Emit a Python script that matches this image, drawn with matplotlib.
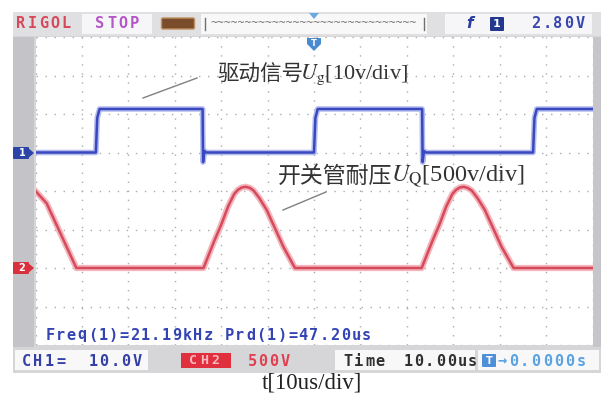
import matplotlib.pyplot as plt
from matplotlib.patches import Rectangle, FancyBboxPatch, Polygon

plt.rcParams['mathtext.fontset'] = 'stix'

# time axis in us (10 us/div, 12 div on screen)
t_ug = [0, 13.0, 13.3, 13.8, 36.0, 36.1, 36.4, 36.8, 60.0, 60.3, 60.8,
        83.3, 83.4, 83.7, 84.1, 107.2, 107.5, 108.0, 120]
ug = [0, 0, 9.0, 11.3, 11.3, -2.5, 0.4, 0, 0, 9.0, 11.3,
      11.3, -2.5, 0.4, 0, 0, 9.0, 11.3, 11.3]

t_uq = [0, 2.4, 8.8,
        36.2, 38.5, 40.0, 41.5, 42.8, 43.6, 44.4, 45.3, 46.2, 47.0, 48.2, 49.8, 51.6, 53.4, 55.9,
        83.2, 85.5, 87.0, 88.5, 89.8, 90.6, 91.4, 92.2, 93.1, 94.0, 95.2, 96.8, 98.6, 100.4, 103.0,
        120]
uq = [1000, 840, 0,
      0, 350, 560, 800, 960, 1015, 1045, 1055, 1040, 1005, 910, 755, 515, 276, 0,
      0, 350, 560, 800, 960, 1015, 1045, 1055, 1040, 1005, 910, 755, 515, 276, 0,
      0]

ug_scale, ug_offset = 10.0, 1.0     # V/div, div
uq_scale, uq_offset = 500.0, -2.0

W, H = 604, 396
fig = plt.figure(figsize=(6.04, 3.96), dpi=100)
bg = fig.add_axes([0, 0, 1, 1])
bg.set_xlim(0, W); bg.set_ylim(H, 0); bg.axis('off')


def mono(ax, x, y, s, pitch, color, size=11, **kw):
    for i, c in enumerate(s):
        ax.text(x + i * pitch, y, c, ha='center', va='center', color=color,
                family='DejaVu Sans Mono', fontweight='bold', fontsize=size, **kw)


# frame of the scope
bg.add_patch(Rectangle((13, 12), 588, 361, fc='#d6d6d9', ec='none'))
bg.add_patch(Rectangle((13, 37), 21, 310, fc='#c4c4c8', ec='none'))
bg.add_patch(Rectangle((593, 37), 8, 310, fc='#c6c6ca', ec='none'))
bg.add_patch(Rectangle((13, 12), 588, 24, fc='#e0e0e3', ec='none'))

# top bar
mono(bg, 21, 24, 'RIGOL', 11.2, '#d9485a')
bg.add_patch(Rectangle((82, 14), 70, 20, fc='#f6f6f8', ec='none'))
mono(bg, 100, 24, 'STOP', 11.5, '#b455c8')
bg.add_patch(FancyBboxPatch((163, 19.5), 30, 8, boxstyle='round,pad=1.5',
                            fc='#7a4c2a', ec='#c09060', lw=1))
bg.add_patch(Rectangle((201, 14), 226, 20, fc='#f8f8f8', ec='none'))
bg.plot([205, 205], [18, 30], color='#707070', lw=1)
bg.plot([424, 424], [18, 30], color='#707070', lw=1)
bg.text(314, 23, '~' * 30, ha='center', va='center', color='#6a6a6a',
        family='DejaVu Sans Mono', fontsize=8.2)
bg.add_patch(Polygon([[309, 13], [319, 13], [314, 19]], closed=True, fc='#6aa8e0', ec='none'))
bg.add_patch(Rectangle((445, 14), 147, 20, fc='#f6f6f8', ec='none'))
bg.text(470, 24, 'f', ha='center', va='center', color='#2c3c9c',
        fontsize=11, fontweight='bold', style='italic')
bg.add_patch(FancyBboxPatch((491, 18), 12, 12, boxstyle='round,pad=1',
                            fc='#23378f', ec='none'))
bg.text(497, 24, '1', ha='center', va='center', color='white', fontsize=8, fontweight='bold')
mono(bg, 536, 24, '2.80V', 11, '#3a46b0')

# status bar
bg.add_patch(Rectangle((15, 350), 133, 20, fc='#f8f8f8', ec='none'))
mono(bg, 26, 361, 'CH1=', 11.5, '#3440a8')
mono(bg, 93, 361, '10.0V', 11, '#3440a8')
bg.add_patch(Rectangle((181, 353), 50, 15, fc='#e0303e', ec='none'))
mono(bg, 193, 361, 'CH2', 11, '#ffb8c0', size=9.5)
mono(bg, 252, 361, '500V', 11, '#e04050')
bg.add_patch(Rectangle((335, 350), 140, 20, fc='#f8f8f8', ec='none'))
mono(bg, 348, 361, 'Time', 10.8, '#303030')
mono(bg, 408, 361, '10.00us', 10.8, '#303030')
bg.add_patch(Rectangle((478, 350), 121, 20, fc='#f8f8f8', ec='none'))
bg.add_patch(FancyBboxPatch((483, 355), 12, 11, boxstyle='round,pad=1',
                            fc='#4d8fd8', ec='none'))
bg.text(489, 360.5, 'T', ha='center', va='center', color='white', fontsize=7, fontweight='bold')
mono(bg, 502, 361, '\u21920.0000s', 11.3, '#5aa2e2')

# channel markers
bg.add_patch(FancyBboxPatch((14, 148), 14, 10, boxstyle='round,pad=1',
                            fc='#2a44a8', ec='none'))
bg.add_patch(Polygon([[27, 147], [34, 153], [27, 159]], closed=True, fc='#2a44a8', ec='none'))
bg.text(22, 153, '1', ha='center', va='center', color='white', fontsize=7, fontweight='bold')
bg.add_patch(FancyBboxPatch((14, 263), 14, 10, boxstyle='round,pad=1',
                            fc='#d8303c', ec='none'))
bg.add_patch(Polygon([[27, 262], [34, 268], [27, 274]], closed=True, fc='#d8303c', ec='none'))
bg.text(22, 268, '2', ha='center', va='center', color='white', fontsize=7, fontweight='bold')

# waveform screen
ax = fig.add_axes([35.5 / W, 1 - 345 / H, 557 / W, 308 / H])
ax.set_xlim(0, 120); ax.set_ylim(-4, 4)
ax.set_facecolor('white')
for s in ax.spines.values():
    s.set_visible(False)
ax.set_xticks([]); ax.set_yticks([])
for k in range(13):
    ax.axvline(k * 10, color='#ababab', lw=1, ls=(0, (1, 5.5)), zorder=1)
for k in range(9):
    ax.axhline(k - 4, color='#ababab', lw=1, ls=(0, (1, 5.5)), zorder=1)

y1 = [v / ug_scale + ug_offset for v in ug]
y2 = [v / uq_scale + uq_offset for v in uq]
ax.plot(t_ug, y1, color='#b4bcee', lw=4, zorder=2, solid_joinstyle='round')
ax.plot(t_ug, y1, color='#3a48c0', lw=1.8, zorder=3)
ax.plot(t_uq, y2, color='#f2b6bc', lw=4.5, zorder=2, solid_joinstyle='round')
ax.plot(t_uq, y2, color='#d64a5c', lw=1.8, zorder=3, solid_joinstyle='round')

# overlay texts
ov = fig.add_axes([0, 0, 1, 1], facecolor='none')
ov.set_xlim(0, W); ov.set_ylim(H, 0); ov.axis('off')
mono(ov, 50, 335, 'Freq(1)=21.19kHz Prd(1)=47.20us', 10.55, '#3444b4')

# trigger position marker
ov.add_patch(Polygon([[307, 38], [321, 38], [321, 44], [314, 51], [307, 44]],
                     closed=True, fc='#4a8ad0', ec='none'))
ov.text(314, 43, 'T', ha='center', va='center', color='white', fontsize=6, fontweight='bold')

cjk = 'Noto Sans CJK SC'
ov.text(217, 75, '驱动信号', ha='left', va='center', fontsize=15.5, color='#333333', family=cjk)
ov.text(300, 75, '$U_{\\mathrm{g}}$[10v/div]', ha='left', va='center',
        fontsize=16, color='#333333', family='Liberation Serif')
ov.plot([143, 197], [98, 78], color='#808080', lw=1)
ov.text(278, 176, '开关管耐压', ha='left', va='center', fontsize=16.5, color='#333333', family=cjk)
ov.text(391, 176, '$U_{\\mathrm{Q}}$[500v/div]', ha='left', va='center',
        fontsize=17.5, color='#333333', family='Liberation Serif')
ov.plot([283, 326], [210, 192], color='#808080', lw=1)
ov.text(312, 383, 't[10us/div]', ha='center', va='center', fontsize=16.5,
        color='#222222', family='Liberation Serif')

fig.savefig('out.png', dpi=100)
